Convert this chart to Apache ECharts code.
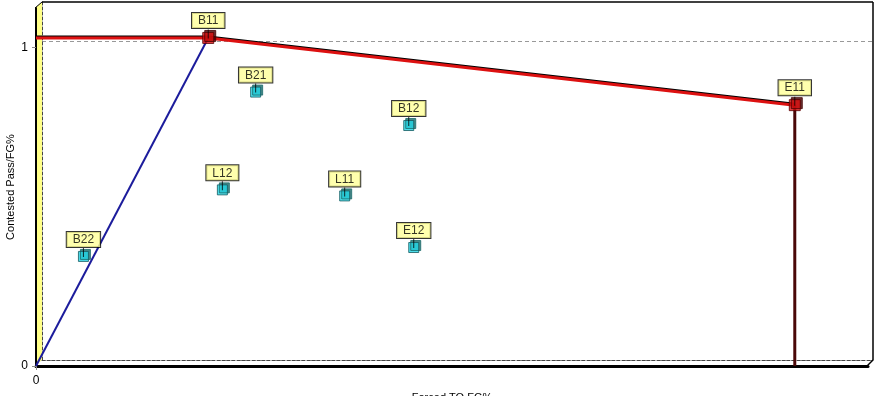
<!DOCTYPE html>
<html>
<head>
<meta charset="utf-8">
<script src="https://cdn.jsdelivr.net/npm/echarts@6/dist/echarts.min.js"></script>
<style>html,body{margin:0;padding:0;background:#fff}#c{width:884px;height:396px}</style>
</head>
<body>
<div id="c"></div>
<script>
// ---- data ----
const unitNames = ['B11', 'E11', 'B21', 'B12', 'L12', 'L11', 'E12', 'B22'];
const forcedTO = [0.207, 0.912, 0.264, 0.448, 0.224, 0.371, 0.454, 0.057];
const contested = [1.030, 0.819, 0.860, 0.755, 0.553, 0.534, 0.372, 0.344];
const efficientUnits = ['B11', 'E11'];
const yTickValues = [0, 1];
const xTickValues = [0];
const xTitle = 'Forced TO FG%';
const yTitle = 'Contested Pass/FG%';

const Y_MAX = 1.124;
const FONT = 'Liberation Sans, Arial, sans-serif';

const pts = unitNames.map((n, i) => ({ name: n, value: [forcedTO[i], contested[i]] }));
const effPts = pts.filter(p => efficientUnits.includes(p.name));
const ineffPts = pts.filter(p => !efficientUnits.includes(p.name));
const b11 = pts[unitNames.indexOf('B11')].value;
const e11 = pts[unitNames.indexOf('E11')].value;
const frontierSloped = [[0, b11[1]], b11, e11];
const frontierDrop = [e11, [e11[0], 0]];
const rayLine = [[0, 0], b11];

const labelCfg = {
  show: true, position: 'top', distance: 4,
  formatter: p => p.name,
  color: '#000', fontFamily: FONT, fontSize: 12,
  backgroundColor: '#ffff99', borderColor: '#000', borderWidth: 1,
  padding: [2, 6, 1, 6]
};

const chart = echarts.init(document.getElementById('c'), null, { renderer: 'canvas' });
chart.setOption({
  animation: false,
  backgroundColor: '#fff',
  grid: [
    { left: 42, right: 11, top: 2, bottom: 36, containLabel: false, outerBoundsMode: 'none' },
    { left: 36, right: 16, top: 8, bottom: 30, containLabel: false, outerBoundsMode: 'none' }
  ],
  xAxis: [
    { gridIndex: 0, type: 'value', min: 0, max: 1,
      axisLine: { show: true, lineStyle: { color: '#444', type: [3, 2], width: 1 } },
      axisTick: { show: false }, axisLabel: { show: false }, splitLine: { show: false } },
    { gridIndex: 1, type: 'value', min: 0, max: 1,
      axisLine: { show: true, onZero: false, lineStyle: { color: '#000', width: 3 } },
      axisTick: { show: true, customValues: xTickValues, length: 4, lineStyle: { color: '#888' } },
      axisLabel: { show: true, customValues: xTickValues, margin: 9, color: '#000', fontFamily: FONT, fontSize: 12 },
      splitLine: { show: false },
      name: xTitle, nameLocation: 'middle', nameGap: 26, nameMoveOverlap: false,
      nameTextStyle: { color: '#000', fontFamily: FONT, fontSize: 11 } }
  ],
  yAxis: [
    { gridIndex: 0, type: 'value', min: 0, max: Y_MAX, interval: 1,
      axisLine: { show: true, lineStyle: { color: '#444', type: [3, 2], width: 1 } },
      axisTick: { show: false }, axisLabel: { show: false },
      splitLine: { show: true, showMaxLine: false, lineStyle: { color: '#999', type: [4, 3], width: 1 } } },
    { gridIndex: 1, type: 'value', min: 0, max: Y_MAX, interval: 1,
      axisLine: { show: true, onZero: false, lineStyle: { color: '#000', width: 2 } },
      axisTick: { show: true, customValues: yTickValues, length: 4, lineStyle: { color: '#888' } },
      axisLabel: { show: true, customValues: yTickValues, margin: 8, color: '#000', fontFamily: FONT, fontSize: 12 },
      splitLine: { show: false },
      name: yTitle, nameLocation: 'middle', nameRotate: 90, nameGap: 20, nameMoveOverlap: false,
      nameTextStyle: { color: '#000', fontFamily: FONT, fontSize: 11 } }
  ],
  graphic: [
    { type: 'polygon', z: -1, shape: { points: [[35, 366], [42, 360], [42, 2], [35, 8]] },
      style: { fill: '#ffff88', stroke: null } },
    { type: 'line', z: 5, shape: { x1: 42, y1: 2, x2: 873, y2: 2 }, style: { stroke: '#000', lineWidth: 1.5 } },
    { type: 'line', z: 5, shape: { x1: 873, y1: 2, x2: 873, y2: 360 }, style: { stroke: '#000', lineWidth: 1.5 } },
    { type: 'line', z: 5, shape: { x1: 35, y1: 8, x2: 42, y2: 2 }, style: { stroke: '#000', lineWidth: 1 } },
    { type: 'line', z: 5, shape: { x1: 867, y1: 366, x2: 873, y2: 360 }, style: { stroke: '#000', lineWidth: 1.5 } }
  ],
  series: [
    { type: 'line', xAxisIndex: 1, yAxisIndex: 1, data: rayLine, symbol: 'none', z: 3,
      lineStyle: { color: '#1c1c9c', width: 2 } },
    { type: 'line', xAxisIndex: 1, yAxisIndex: 1, data: frontierSloped, symbol: 'none', z: 4,
      lineStyle: { color: '#dd1111', width: 3, shadowColor: '#000', shadowBlur: 0, shadowOffsetY: -1 } },
    { type: 'line', xAxisIndex: 1, yAxisIndex: 1, data: frontierDrop, symbol: 'none', z: 4,
      lineStyle: { color: '#4a0808', width: 3 } },
    { type: 'scatter', xAxisIndex: 1, yAxisIndex: 1, data: ineffPts, z: 6,
      symbol: 'rect', symbolSize: 10,
      itemStyle: { color: '#22d8e8', borderColor: '#155a60', borderWidth: 1,
        shadowColor: '#1a6a6a', shadowBlur: 0, shadowOffsetX: 2, shadowOffsetY: -2 },
      label: labelCfg },
    { type: 'scatter', xAxisIndex: 1, yAxisIndex: 1, data: effPts, z: 6,
      symbol: 'rect', symbolSize: 11,
      itemStyle: { color: '#e01010', borderColor: '#500', borderWidth: 1,
        shadowColor: '#400', shadowBlur: 0, shadowOffsetX: 2, shadowOffsetY: -2 },
      label: labelCfg },
    { type: 'scatter', xAxisIndex: 1, yAxisIndex: 1, data: pts, z: 7, silent: true,
      symbol: 'rect', symbolSize: [1, 9], symbolOffset: [0, -4],
      itemStyle: { color: '#000' } }
  ]
});
</script>
</body>
</html>
